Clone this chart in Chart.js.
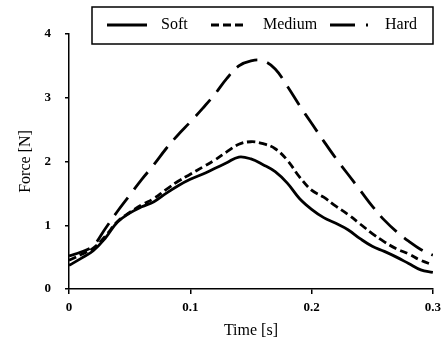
<!DOCTYPE html>
<html>
<head>
<meta charset="utf-8">
<script src="https://cdn.jsdelivr.net/npm/chart.js@4"></script>
<style>
  html, body { margin: 0; padding: 0; background: #fff; }
  #wrap { width: 447px; height: 340px; }
</style>
</head>
<body>
<div id="wrap"><canvas id="force"></canvas></div>
<script>
// time axis, seconds
const times = [0, 0.01, 0.02, 0.03, 0.04, 0.05, 0.06, 0.07, 0.08, 0.09, 0.10,
  0.11, 0.12, 0.13, 0.14, 0.15, 0.16, 0.17, 0.18, 0.19, 0.20,
  0.21, 0.22, 0.23, 0.24, 0.25, 0.26, 0.27, 0.28, 0.29, 0.30];

// force readings, N
const soft = [0.37, 0.48, 0.60, 0.80, 1.05, 1.19, 1.29, 1.37, 1.50, 1.62, 1.72,
  1.80, 1.89, 1.98, 2.07, 2.04, 1.95, 1.84, 1.66, 1.42, 1.25,
  1.12, 1.03, 0.93, 0.79, 0.67, 0.59, 0.50, 0.40, 0.30, 0.26];
const medium = [0.45, 0.54, 0.64, 0.83, 1.06, 1.20, 1.32, 1.42, 1.56, 1.69, 1.80,
  1.91, 2.02, 2.15, 2.27, 2.31, 2.28, 2.20, 2.02, 1.76, 1.55,
  1.44, 1.30, 1.17, 1.02, 0.87, 0.74, 0.63, 0.55, 0.45, 0.38];
const hard = [0.52, 0.58, 0.68, 0.95, 1.22, 1.47, 1.72, 1.95, 2.20, 2.42, 2.62,
  2.83, 3.05, 3.30, 3.50, 3.58, 3.58, 3.45, 3.18, 2.88, 2.60,
  2.32, 2.05, 1.80, 1.55, 1.30, 1.08, 0.90, 0.75, 0.62, 0.53];

const seriesLabels = ['Soft', 'Medium', 'Hard'];
const xTicks = [0, 0.1, 0.2, 0.3];
const yTicks = [0, 1, 2, 3, 4];

const pts = (vals) => vals.map((v, i) => ({ x: times[i], y: v }));

const serif = "'Liberation Serif', 'Times New Roman', serif";

// legend box drawn by hand, it sits over the top of the plot
const boxLegend = {
  id: 'boxLegend',
  afterDraw(chart) {
    const ctx = chart.ctx;
    ctx.save();
    ctx.strokeStyle = '#000';
    ctx.lineWidth = 1.5;
    ctx.fillStyle = '#fff';
    ctx.fillRect(92, 7, 341, 37);
    ctx.strokeRect(92, 7, 341, 37);

    const items = [
      { x1: 107, x2: 147, tx: 161, dash: [] },
      { x1: 211, x2: 245, tx: 263, dash: [8, 4] },
      { x1: 330, x2: 369, tx: 385, dash: [25, 11, 2, 20] }
    ];
    ctx.font = "16px " + serif;
    ctx.textBaseline = 'middle';
    items.forEach((it, i) => {
      ctx.setLineDash(it.dash);
      ctx.lineWidth = 2.8;
      ctx.beginPath();
      ctx.moveTo(it.x1, 25);
      ctx.lineTo(it.x2, 25);
      ctx.stroke();
      ctx.setLineDash([]);
      ctx.fillStyle = '#000';
      ctx.fillText(chart.data.datasets[i].label, it.tx, 25);
    });
    ctx.restore();
  }
};

const ctx = document.querySelector('#force');
const forceChart = new Chart(ctx, {
  type: 'line',
  data: {
    datasets: [
      { label: seriesLabels[0], data: pts(soft), borderDash: [] },
      { label: seriesLabels[1], data: pts(medium), borderDash: [8, 4] },
      { label: seriesLabels[2], data: pts(hard), borderDash: [22, 10] }
    ]
  },
  options: {
    responsive: true,
    maintainAspectRatio: false,
    animation: false,
    layout: { padding: { top: 34, right: 6, left: 0, bottom: 0 } },
    elements: {
      line: { borderColor: '#000', borderWidth: 2.8, tension: 0.4, fill: false },
      point: { radius: 0 }
    },
    plugins: {
      legend: { display: false },
      tooltip: { enabled: false }
    },
    scales: {
      x: {
        type: 'linear',
        min: 0,
        max: 0.3,
        afterFit: (s) => { s.height = 51; },
        afterBuildTicks: (s) => { s.ticks = xTicks.map(v => ({ value: v })); },
        border: { display: true, color: '#000', width: 1.5 },
        grid: { display: true, drawOnChartArea: false, drawTicks: true, tickLength: 5, color: '#000', lineWidth: 1.5 },
        ticks: {
          color: '#000',
          padding: 6,
          maxRotation: 0,
          font: { family: serif, size: 13, weight: 'bold' },
          callback: (v) => String(v)
        },
        title: {
          display: true,
          text: 'Time [s]',
          color: '#000',
          font: { family: serif, size: 16 },
          padding: { top: 4, bottom: 0 }
        }
      },
      y: {
        min: 0,
        max: 4,
        afterFit: (s) => { s.width = 69; },
        afterBuildTicks: (s) => { s.ticks = yTicks.map(v => ({ value: v })); },
        border: { display: true, color: '#000', width: 1.5 },
        grid: { display: true, drawOnChartArea: false, drawTicks: true, tickLength: 4, color: '#000', lineWidth: 1.5 },
        ticks: {
          color: '#000',
          padding: 14,
          font: { family: serif, size: 13, weight: 'bold' },
          callback: (v) => String(v)
        },
        title: {
          display: true,
          text: 'Force [N]',
          color: '#000',
          font: { family: serif, size: 16 },
          padding: { top: 16, bottom: 0 }
        }
      }
    }
  },
  plugins: [boxLegend]
});
</script>
</body>
</html>
